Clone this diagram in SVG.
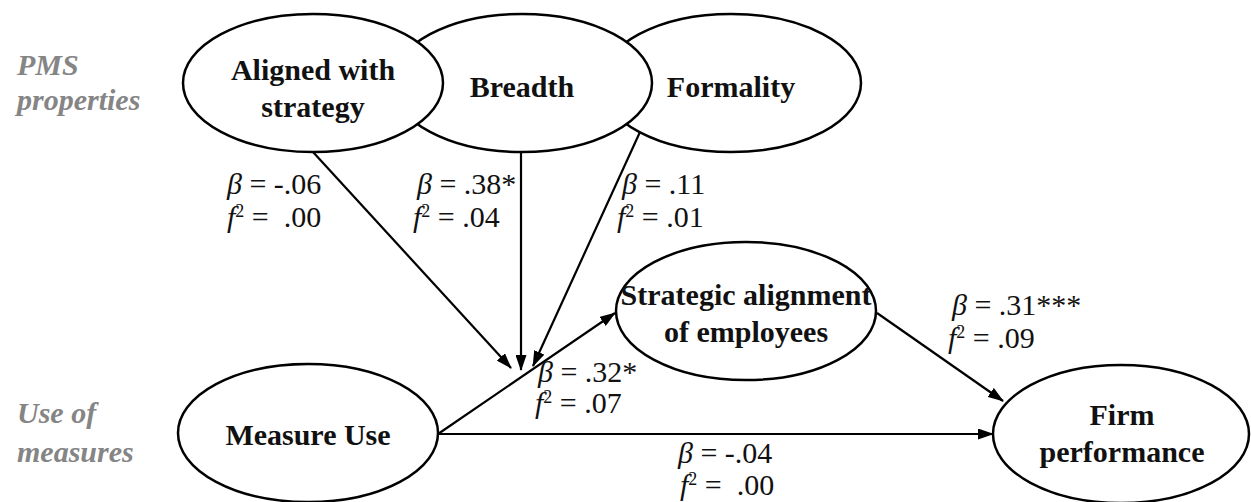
<svg xmlns="http://www.w3.org/2000/svg" width="1251" height="502" viewBox="0 0 1251 502" font-family="'Liberation Serif', 'DejaVu Serif', serif">
  <style>
    .node ellipse { fill: #fff; stroke: #000; stroke-width: 2.5; }
    .node text { font-weight: bold; font-size: 30px; fill: #111; text-anchor: middle; }
    .side { font-weight: bold; font-style: italic; font-size: 30px; fill: #858585; }
    .edge { stroke: #000; stroke-width: 2.2; fill: none; marker-end: url(#ah); }
    .lbl { font-size: 30px; fill: #111; white-space: pre; }
    .it { font-style: italic; }
    .sup { font-size: 18px; }
  </style>
  <defs>
    <marker id="ah" viewBox="0 0 16 11" refX="15" refY="5.5" markerWidth="16" markerHeight="11" orient="auto" markerUnits="userSpaceOnUse">
      <path d="M0,0 L16,5.5 L0,11 Z" fill="#000"/>
    </marker>
  </defs>
  <rect width="1251" height="502" fill="#fff"/>

  <!-- row labels -->
  <text class="side" x="17" y="75">PMS</text>
  <text class="side" x="17" y="110">properties</text>
  <text class="side" x="17" y="423">Use of</text>
  <text class="side" x="17" y="462">measures</text>

  <!-- PMS property constructs (drawn back to front) -->
  <g id="formality" class="node">
    <ellipse cx="731" cy="83" rx="130" ry="69"/>
    <text x="731" y="97">Formality</text>
  </g>
  <g id="breadth" class="node">
    <ellipse cx="522" cy="83" rx="130" ry="69"/>
    <text x="522" y="97">Breadth</text>
  </g>
  <g id="aligned" class="node">
    <ellipse cx="313" cy="83" rx="130" ry="69"/>
    <text x="313" y="80">Aligned with</text>
    <text x="313" y="117">strategy</text>
  </g>

  <g id="strategic-alignment" class="node">
    <ellipse cx="746" cy="311" rx="130" ry="69"/>
    <text x="746" y="305">Strategic alignment</text>
    <text x="746" y="342">of employees</text>
  </g>
  <g id="measure-use" class="node">
    <ellipse cx="308" cy="433" rx="130" ry="69"/>
    <text x="308" y="445">Measure Use</text>
  </g>
  <g id="firm-performance" class="node">
    <ellipse cx="1121" cy="434" rx="128" ry="69"/>
    <text x="1122" y="425">Firm</text>
    <text x="1122" y="462">performance</text>
  </g>

  <!-- paths -->
  <g id="connectors">
    <line class="edge" x1="313" y1="152" x2="511" y2="368"/>
    <line class="edge" x1="521" y1="152" x2="521" y2="370"/>
    <line class="edge" x1="640" y1="132" x2="533" y2="366"/>
    <line class="edge" x1="438" y1="434" x2="615" y2="313"/>
    <line class="edge" x1="438" y1="434" x2="993" y2="434"/>
    <line class="edge" x1="877" y1="313" x2="1003" y2="401"/>
  </g>

  <!-- path coefficients -->
  <g id="coefficients">
    <text class="lbl" x="227" y="194"><tspan class="it">β</tspan> = -.06</text>
    <text class="lbl" x="227" y="227"><tspan class="it">f</tspan><tspan class="sup" dy="-10">2</tspan><tspan dy="10"> =  .00</tspan></text>

    <text class="lbl" x="417" y="194"><tspan class="it">β</tspan> = .38*</text>
    <text class="lbl" x="413" y="227"><tspan class="it">f</tspan><tspan class="sup" dy="-10">2</tspan><tspan dy="10"> = .04</tspan></text>

    <text class="lbl" x="622" y="194"><tspan class="it">β</tspan> = .11</text>
    <text class="lbl" x="617" y="227"><tspan class="it">f</tspan><tspan class="sup" dy="-10">2</tspan><tspan dy="10"> = .01</tspan></text>

    <text class="lbl" x="538" y="382"><tspan class="it">β</tspan> = .32*</text>
    <text class="lbl" x="535" y="413"><tspan class="it">f</tspan><tspan class="sup" dy="-10">2</tspan><tspan dy="10"> = .07</tspan></text>

    <text class="lbl" x="952" y="315"><tspan class="it">β</tspan> = .31***</text>
    <text class="lbl" x="948" y="348"><tspan class="it">f</tspan><tspan class="sup" dy="-10">2</tspan><tspan dy="10"> = .09</tspan></text>

    <text class="lbl" x="678" y="463"><tspan class="it">β</tspan> = -.04</text>
    <text class="lbl" x="680" y="495"><tspan class="it">f</tspan><tspan class="sup" dy="-10">2</tspan><tspan dy="10"> =  .00</tspan></text>
  </g>
</svg>
